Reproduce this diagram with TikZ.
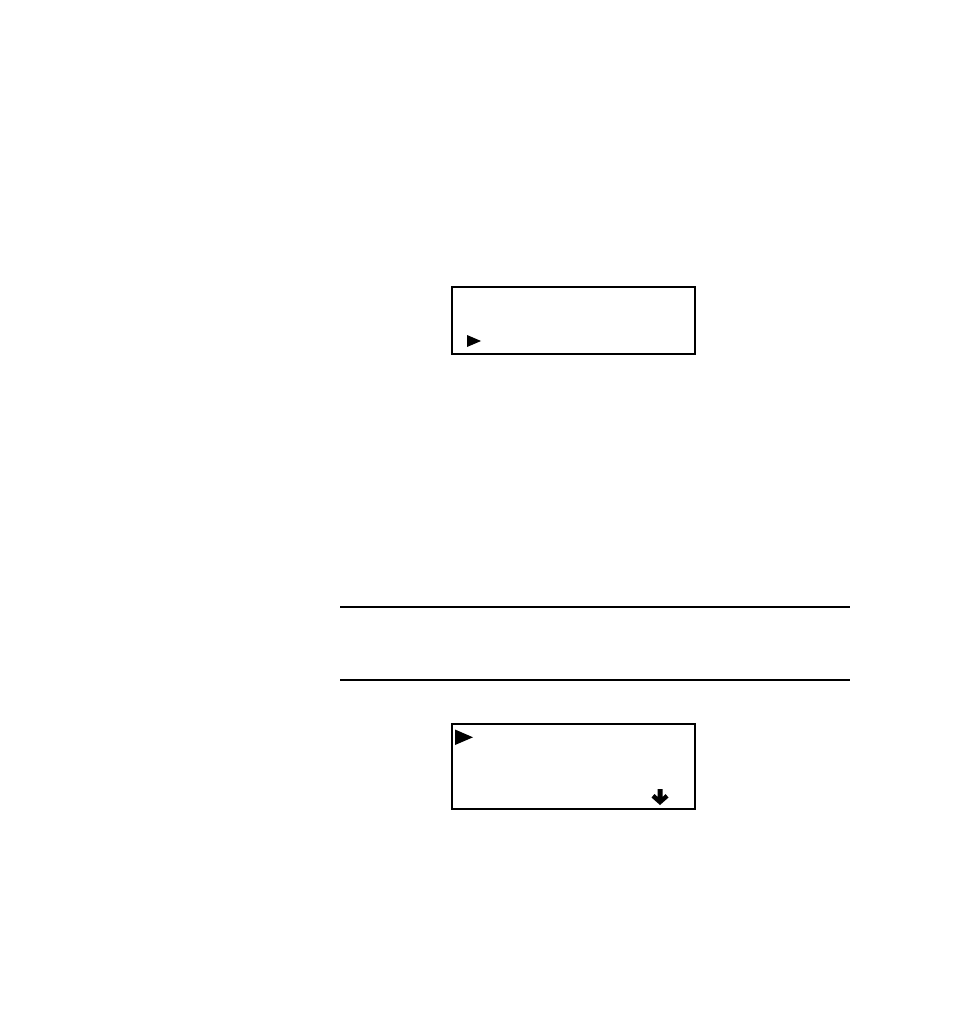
\documentclass[tikz,border=0pt]{standalone}
\begin{document}
\begin{tikzpicture}[x=1pt,y=-1pt,
  screen/.style={draw=black,line width=2pt,minimum width=243pt,minimum height=67pt,inner sep=0pt,anchor=north west},
  rule/.style={line width=2pt},
  glyph/.style={fill=black,draw=none}]
\useasboundingbox (0,0) rectangle (954,1011);
\node[screen] (scr1) at (451,286) {};
\node[screen,minimum height=85pt] (scr2) at (451,723) {};
\coordinate (r1a) at (340,607);
\coordinate (r1b) at (850,607);
\coordinate (r2a) at (340,680);
\coordinate (r2b) at (850,680);
\draw[rule] (r1a) -- (r1b);
\draw[rule] (r2a) -- (r2b);
% cursor in first screen
\fill[glyph] (467,335) -- (467,347) -- (481,341) -- cycle;
% cursor in second screen
\fill[glyph] (455,729.5) -- (455,745) -- (473,737.3) -- cycle;
% bold down arrow
\fill[glyph] (657.5,789) -- (662.5,789) -- (662.5,797) -- (665.5,794) -- (668.5,797.5) -- (660,805) -- (651.5,797.5) -- (654.5,794) -- (657.5,797) -- cycle;
\end{tikzpicture}
\end{document}
